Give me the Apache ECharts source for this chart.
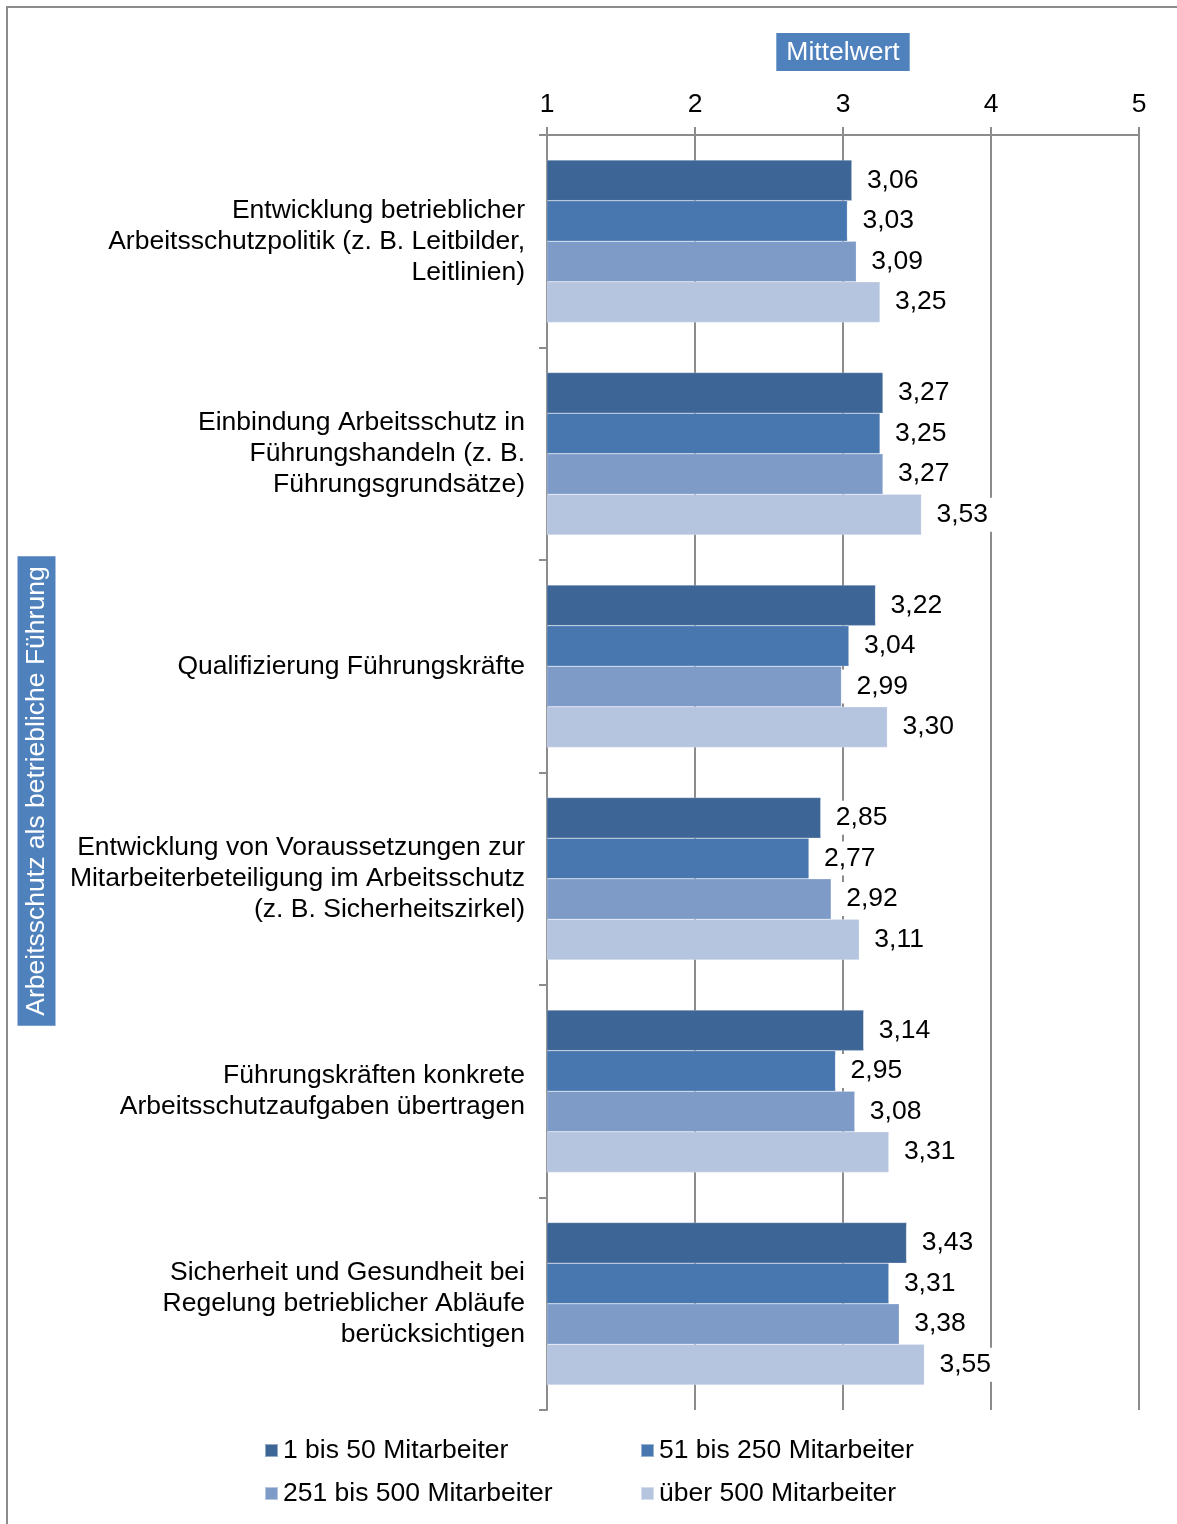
<!DOCTYPE html>
<html>
<head>
<meta charset="utf-8">
<script src="https://cdn.jsdelivr.net/npm/echarts@6/dist/echarts.min.js"></script>
<style>
html,body{margin:0;padding:0;background:#fff;}
#chart{width:1177px;height:1524px;}
</style>
</head>
<body>
<div id="chart"></div>
<script>
const categories = [
  "Entwicklung betrieblicher\nArbeitsschutzpolitik (z. B. Leitbilder,\nLeitlinien)",
  "Einbindung Arbeitsschutz in\nFührungshandeln (z. B.\nFührungsgrundsätze)",
  "Qualifizierung Führungskräfte",
  "Entwicklung von Voraussetzungen zur\nMitarbeiterbeteiligung im Arbeitsschutz\n(z. B. Sicherheitszirkel)",
  "Führungskräften konkrete\nArbeitsschutzaufgaben übertragen",
  "Sicherheit und Gesundheit bei\nRegelung betrieblicher Abläufe\nberücksichtigen"
];
const seriesNames = ["1 bis 50 Mitarbeiter", "51 bis 250 Mitarbeiter", "251 bis 500 Mitarbeiter", "über 500 Mitarbeiter"];
const s1to50 = [3.06, 3.27, 3.22, 2.85, 3.14, 3.43];
const s51to250 = [3.03, 3.25, 3.04, 2.77, 2.95, 3.31];
const s251to500 = [3.09, 3.27, 2.99, 2.92, 3.08, 3.38];
const sOver500 = [3.25, 3.53, 3.30, 3.11, 3.31, 3.55];
const xMin = 1, xMax = 5, xStep = 1;
const xTitle = "Mittelwert";
const yTitle = "Arbeitsschutz als betriebliche Führung";

const colors = ["#3D6596", "#4877B0", "#7E9BC8", "#B5C4DF"];
const seriesData = [s1to50, s51to250, s251to500, sOver500];
const FONT = "'Liberation Sans', Arial, sans-serif";
const FS = 26.5;

const chart = echarts.init(document.getElementById('chart'), null, {renderer: 'canvas'});

const legendPos = [
  {left: 259, top: 1432},
  {left: 635, top: 1432},
  {left: 259, top: 1475},
  {left: 635, top: 1475}
];

const option = {
  backgroundColor: '#fff',
  animation: false,
  textStyle: {fontFamily: FONT},
  grid: {left: 547, right: 38, top: 135, bottom: 114, containLabel: false},
  legend: seriesNames.map((n, i) => ({
    data: [n],
    left: legendPos[i].left,
    top: legendPos[i].top,
    icon: 'rect',
    itemWidth: 13,
    itemHeight: 13,
    selectedMode: false,
    textStyle: {fontSize: FS, color: '#000', fontFamily: FONT}
  })),
  xAxis: {
    type: 'value',
    position: 'top',
    min: xMin,
    max: xMax,
    interval: xStep,
    name: xTitle,
    nameLocation: 'middle',
    nameGap: 64,
    nameTextStyle: {
      color: '#fff', fontSize: FS, fontFamily: FONT,
      backgroundColor: '#4F81BD', padding: [6, 10, 5, 10]
    },
    axisLine: {show: true, lineStyle: {color: '#8C8C8C', width: 2}},
    axisTick: {show: true, length: 8, lineStyle: {color: '#8C8C8C', width: 2}},
    splitLine: {show: true, lineStyle: {color: '#8C8C8C', width: 2}},
    axisLabel: {fontSize: FS, color: '#000', margin: 17, fontFamily: FONT}
  },
  yAxis: {
    type: 'category',
    inverse: true,
    data: categories,
    axisLine: {show: true, lineStyle: {color: '#8C8C8C', width: 2}},
    axisTick: {show: true, length: 8, lineStyle: {color: '#8C8C8C', width: 2}},
    axisLabel: {fontSize: FS, color: '#000', margin: 22, lineHeight: 31, align: 'right', fontFamily: FONT}
  },
  graphic: [
    {
      type: 'polyline',
      shape: {points: [[7, 1524], [7, 7], [1177, 7]]},
      style: {stroke: '#8C8C8C', lineWidth: 2, fill: null},
      silent: true
    },
    {
      type: 'text',
      x: 36.5, y: 791,
      rotation: Math.PI / 2,
      style: {
        text: yTitle,
        fill: '#fff',
        font: FS + "px " + FONT,
        align: 'center',
        verticalAlign: 'middle',
        backgroundColor: '#4F81BD',
        padding: [7, 10, 4, 10]
      },
      silent: true
    }
  ],
  series: seriesNames.map((n, i) => ({
    name: n,
    type: 'bar',
    data: seriesData[i],
    barGap: '0%',
    barCategoryGap: '23.6%',
    itemStyle: {color: colors[i], borderColor: 'rgba(255,255,255,0.45)', borderWidth: 0.5},
    label: {
      show: true,
      position: 'right',
      distance: 0,
      color: '#000',
      fontSize: FS,
      fontFamily: FONT,
      backgroundColor: '#fff',
      padding: [6, 4, 1, 15],
      formatter: p => p.value.toFixed(2).replace('.', ',')
    }
  }))
};
chart.setOption(option);
</script>
</body>
</html>
